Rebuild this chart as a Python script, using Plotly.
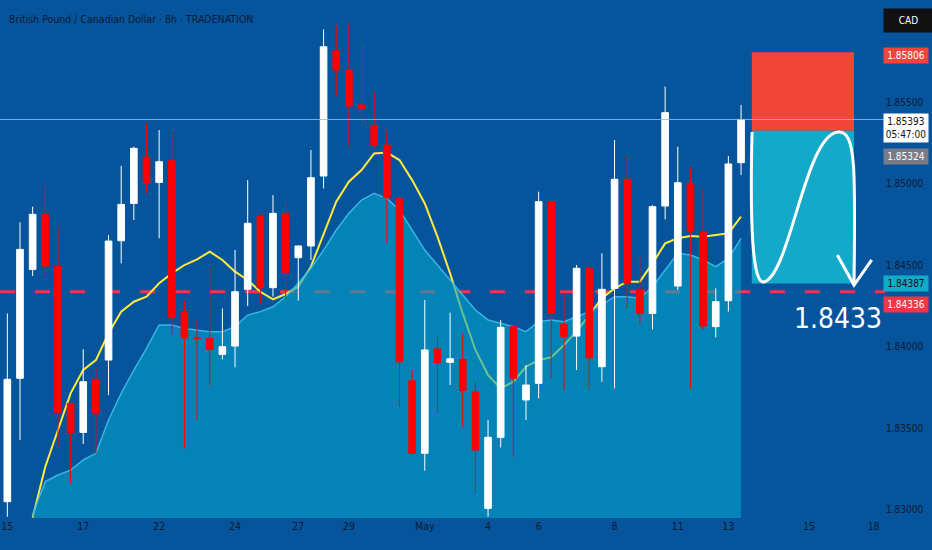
import plotly.graph_objects as go

# GBP/CAD 8h candles
opens = [1.83048, 1.83805, 1.84473, 1.84811, 1.84494, 1.83651, 1.83473, 1.83799, 1.83917, 1.84649,
         1.84878, 1.85161, 1.85007, 1.85140, 1.84214, 1.84052, 1.84050, 1.83952, 1.84003, 1.84351,
         1.84801, 1.84361, 1.84817, 1.84545, 1.84617, 1.85046, 1.85815, 1.85696, 1.85482, 1.85355,
         1.85236, 1.84909, 1.83790, 1.83345, 1.83985, 1.83903, 1.83921, 1.83721, 1.83007, 1.83443,
         1.84122, 1.83672, 1.83774, 1.84889, 1.84138, 1.84064, 1.84480, 1.83876, 1.84356, 1.85026,
         1.84351, 1.84203, 1.84862, 1.84371, 1.85001, 1.84701, 1.84122, 1.84281, 1.85128]
highs = [1.84203, 1.84762, 1.84858, 1.84995, 1.84735, 1.83655, 1.83983, 1.83876, 1.84684, 1.85109,
         1.85226, 1.85369, 1.85328, 1.85318, 1.84285, 1.84163, 1.84500, 1.84234, 1.84592, 1.85021,
         1.84815, 1.84929, 1.84899, 1.84620, 1.85206, 1.85946, 1.85972, 1.85983, 1.85850, 1.85563,
         1.85328, 1.84910, 1.83856, 1.84285, 1.84064, 1.84208, 1.84081, 1.83784, 1.83549, 1.84163,
         1.84125, 1.83887, 1.84950, 1.84890, 1.84326, 1.84500, 1.84500, 1.84572, 1.85267, 1.85175,
         1.84551, 1.84868, 1.85594, 1.85226, 1.85103, 1.84970, 1.84357, 1.85169, 1.85482]
lows = [1.82956, 1.83426, 1.84433, 1.84418, 1.83385, 1.83160, 1.83402, 1.83345, 1.83702, 1.84510,
        1.84776, 1.84940, 1.84664, 1.84071, 1.83375, 1.83549, 1.83764, 1.83921, 1.83872, 1.84248,
        1.84265, 1.84306, 1.84290, 1.84281, 1.84531, 1.84970, 1.85533, 1.85230, 1.85379, 1.85216,
        1.84633, 1.83631, 1.83340, 1.83238, 1.83590, 1.83764, 1.83504, 1.83099, 1.82956, 1.83381,
        1.83324, 1.83549, 1.83682, 1.83805, 1.83733, 1.83856, 1.83733, 1.83784, 1.83743, 1.84234,
        1.84138, 1.84105, 1.84780, 1.84347, 1.83743, 1.84101, 1.84056, 1.84214, 1.85052]
closes = [1.83799, 1.84596, 1.84811, 1.84494, 1.83594, 1.83473, 1.83784, 1.83590, 1.84647, 1.84872,
          1.85216, 1.85007, 1.85134, 1.84177, 1.84054, 1.84050, 1.83983, 1.83999, 1.84336, 1.84756,
          1.84361, 1.84817, 1.84453, 1.84617, 1.85036, 1.85839, 1.85696, 1.85475, 1.85461, 1.85236,
          1.84913, 1.83907, 1.83345, 1.83979, 1.83901, 1.83925, 1.83729, 1.83365, 1.83443, 1.84118,
          1.83805, 1.83764, 1.84889, 1.84203, 1.84060, 1.84480, 1.83931, 1.84351, 1.85026, 1.84388,
          1.84203, 1.84858, 1.85435, 1.85005, 1.84705, 1.84126, 1.84275, 1.85120, 1.85393]

# indicator lines start at the third bar
ind_start = 2
ma_fast = [1.82950, 1.83263, 1.83488, 1.83713, 1.83856, 1.83917, 1.84081, 1.84214,
           1.84275, 1.84306, 1.84388, 1.84449, 1.84500, 1.84535, 1.84582, 1.84531, 1.84459, 1.84408,
           1.84336, 1.84289, 1.84322, 1.84367, 1.84490, 1.84694, 1.84889, 1.85011, 1.85083, 1.85185,
           1.85191, 1.85144, 1.85021, 1.84878, 1.84674, 1.84449, 1.84203, 1.83979, 1.83825, 1.83743,
           1.83784, 1.83876, 1.83917, 1.83934, 1.84009, 1.84091, 1.84193, 1.84296, 1.84357, 1.84398,
           1.84398, 1.84510, 1.84633, 1.84664, 1.84678, 1.84674, 1.84684, 1.84694, 1.84797]
ma_slow = [1.82970, 1.83171, 1.83212, 1.83242, 1.83304, 1.83345, 1.83549, 1.83713,
           1.83856, 1.83989, 1.84132, 1.84132, 1.84111, 1.84101, 1.84091, 1.84091, 1.84122, 1.84193,
           1.84214, 1.84244, 1.84306, 1.84388, 1.84480, 1.84592, 1.84715, 1.84817, 1.84899, 1.84940,
           1.84909, 1.84837, 1.84715, 1.84592, 1.84500, 1.84408, 1.84316, 1.84224, 1.84163, 1.84142,
           1.84122, 1.84091, 1.84152, 1.84163, 1.84152, 1.84183, 1.84214, 1.84255, 1.84306, 1.84306,
           1.84296, 1.84367, 1.84469, 1.84572, 1.84561, 1.84531, 1.84490, 1.84541, 1.84664]

tick_pos = [0, 6, 12, 18, 23, 27, 33, 38, 42, 48, 53, 57, 63.4, 68.5]
tick_text = ["15", "17", "22", "24", "27", "29", "May", "4", "6", "8", "11", "13", "15", "18"]
price_ticks = [1.830, 1.835, 1.840, 1.845, 1.850, 1.855]

last_price = 1.85393
stop_price = 1.85806
entry_price = 1.85324
target_price = 1.84387
level_price = 1.84336

# trade box drawing (bar index span)
box_x0, box_x1 = 58.85, 66.93

BG = "#06549C"
TXT = "#0d1b33"
FONT = "DejaVu Sans Condensed, Roboto, sans-serif"

x_range = [-0.58, 69.38]
y_range = [1.82948, 1.86126]

bars = list(range(len(opens)))
ind_x = list(range(ind_start, ind_start + len(ma_fast)))

fig = go.Figure()
fig.add_trace(go.Scatter(
    x=ind_x, y=ma_fast, mode="lines",
    line=dict(color="#ffeb3b", width=2), hoverinfo="skip",
))
fig.add_trace(go.Scatter(
    x=ind_x, y=ma_slow, mode="lines", fill="tozeroy",
    fillcolor="rgba(4,165,200,0.6)",
    line=dict(color="rgba(60,190,235,0.9)", width=1.5), hoverinfo="skip",
))
# candles on an overlaid subplot so they sit above the shaded area
fig.add_trace(go.Candlestick(
    x=bars, open=opens, high=highs, low=lows, close=closes,
    increasing=dict(line=dict(color="#ffffff", width=1), fillcolor="#ffffff"),
    decreasing=dict(line=dict(color="#ff0000", width=1), fillcolor="#ff0000"),
    whiskerwidth=0, xaxis="x2", yaxis="y2",
))

shapes = [
    dict(type="line", xref="paper", x0=0, x1=1, y0=level_price, y1=level_price,
         line=dict(color="#f23645", width=3, dash="15px,20px"), layer="below"),
    dict(type="rect", x0=box_x0, x1=box_x1, y0=entry_price, y1=stop_price,
         fillcolor="#f2453a", line=dict(width=0)),
    dict(type="rect", x0=box_x0, x1=box_x1, y0=target_price, y1=entry_price,
         fillcolor="#14a9c8", line=dict(width=0)),
    dict(type="line", xref="paper", x0=0, x1=1, y0=last_price, y1=last_price,
         line=dict(color="rgba(140,190,235,0.85)", width=1)),
    # hand-drawn wave and arrow inside the box
    dict(type="path",
         path=("M 58.87,1.85316 C 58.70,1.84776 58.87,1.84377 59.82,1.84396 "
               "C 61.87,1.84439 63.06,1.85298 65.67,1.85316 "
               "C 67.10,1.85328 67.05,1.85083 66.93,1.84377"),
         line=dict(color="white", width=3)),
    dict(type="path", path="M 65.61,1.84561 L 66.93,1.84377 L 68.33,1.84531",
         line=dict(color="white", width=3)),
]

annotations = [
    dict(text="British Pound / Canadian Dollar · 8h · TRADENATION", xref="paper", yref="paper",
         x=0.008, y=0.963, xanchor="left", yanchor="middle", showarrow=False,
         font=dict(family=FONT, size=10.5, color=TXT)),
    dict(text="1.8433", x=65.67, y=1.84175, showarrow=False,
         font=dict(family=FONT, size=28, color="white")),
    dict(text="CAD", xref="paper", yref="paper", x=1.0, y=0.961, xanchor="left",
         yanchor="middle", xshift=-2, showarrow=False, bgcolor="#111111", width=37,
         borderpad=6, font=dict(family=FONT, size=10, color="white")),
]

# price labels on the right scale
labels = [
    (f"{stop_price:.5f}", stop_price, "#f2453a", "white", -3),
    (f"{last_price:.5f}<br>05:47:00", last_price, "#ffffff", "#111111", -9),
    (f"{entry_price:.5f}", entry_price, "#787b86", "white", -26),
    (f"{target_price:.5f}", target_price, "#14a9c8", "#111111", 0),
    (f"{level_price:.5f}", level_price, "#f23645", "white", -13),
]
for txt, yv, bg, fg, ys in labels:
    annotations.append(dict(
        text=txt, xref="paper", x=1.0, y=yv, xanchor="left", yanchor="middle",
        xshift=-2, yshift=ys, showarrow=False, bgcolor=bg, width=40, borderpad=2,
        font=dict(family=FONT, size=10, color=fg),
    ))

fig.update_layout(
    width=932, height=550,
    margin=dict(l=0, r=47, t=0, b=32),
    paper_bgcolor=BG, plot_bgcolor=BG,
    showlegend=False, boxgap=0.25,
    shapes=shapes, annotations=annotations,
    xaxis=dict(range=x_range, tickvals=tick_pos, ticktext=tick_text,
               showgrid=False, zeroline=False, showline=False, ticks="",
               rangeslider=dict(visible=False),
               tickfont=dict(family=FONT, size=10.5, color=TXT)),
    yaxis=dict(range=y_range, side="right", tickvals=price_ticks,
               tickformat=".5f", showgrid=False, zeroline=False, showline=False,
               ticks="", tickfont=dict(family=FONT, size=10, color=TXT)),
    xaxis2=dict(range=x_range, overlaying="x", visible=False,
                rangeslider=dict(visible=False)),
    yaxis2=dict(range=y_range, overlaying="y", visible=False),
)

fig.write_html("out.html", config={"displayModeBar": False},
               post_script="document.body.style.margin='0';")
